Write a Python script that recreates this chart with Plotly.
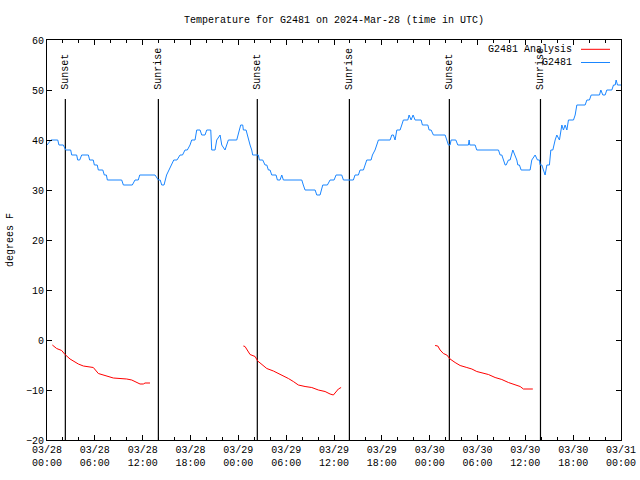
import plotly.graph_objects as go

# ---------------- data ----------------
# time in hours since 2024-03-28 00:00 UTC
obs_hours = [0.0, 0.5, 1.35, 1.5, 2.05, 2.34, 2.97, 3.1, 3.72, 3.85, 4.1, 4.35, 5.19, 5.35, 5.8,
             5.94, 6.3, 6.44, 7.0, 7.19, 7.45, 7.57, 9.37, 9.58, 10.7, 11.04, 11.45, 11.63, 13.55,
             13.97, 14.2, 14.39, 14.68, 15.0, 15.3, 15.56, 15.9, 16.3, 16.69, 17.0, 17.31, 17.6,
             17.94, 18.15, 18.57, 18.78, 19.2, 19.41, 19.82, 20.04, 20.54, 20.66, 21.08, 21.29,
             21.71, 21.92, 22.33, 22.75, 23.8, 24.13, 24.3, 24.55, 24.63, 24.97, 25.13, 25.26,
             25.47, 25.68, 25.8, 26.51, 26.64, 27.06, 27.35, 27.57, 27.77, 27.98, 28.19, 28.73,
             28.9, 29.23, 29.45, 29.65, 31.96, 32.15, 32.37, 33.63, 33.84, 34.25, 34.59, 35.17,
             35.51, 36.01, 36.26, 36.97, 37.18, 38.43, 38.64, 39.06, 39.27, 39.69, 39.9, 40.11,
             40.65, 40.82, 41.15, 41.37, 41.57, 43.04, 43.25, 43.45, 43.66, 43.88, 44.29, 44.5,
             44.7, 45.26, 45.42, 45.67, 45.92, 46.17, 46.93, 47.09, 47.77, 47.93, 48.18, 48.47,
             49.94, 50.15, 50.35, 50.56, 50.69, 51.28, 51.53, 52.86, 52.95, 53.03, 53.7, 53.91,
             56.63, 56.84, 57.05, 57.47, 57.59, 57.88, 58.09, 58.43, 58.72, 58.93, 59.06, 59.26,
             59.47, 60.6, 60.81, 61.23, 61.52, 61.77, 61.86, 62.07, 62.27, 62.48, 62.7, 63.02,
             63.2, 63.45, 63.74, 63.95, 64.28, 64.58, 64.78, 64.99, 65.21, 65.41, 66.04, 66.25,
             66.46, 67.5, 67.72, 68.04, 68.26, 69.3, 69.47, 69.72, 70.01, 70.22, 70.85, 71.06,
             71.27, 71.39, 71.56, 72.0]
obs_temp = [39, 40, 40, 39, 39, 38, 38, 37, 37, 36, 36, 37, 37, 36, 36,
            35, 35, 34, 34, 33, 33, 32, 32, 31, 31, 32, 32, 33, 33,
            32, 32, 31, 31, 33, 34, 35, 36, 36, 37, 37, 38, 38,
            39, 40, 40, 42, 42, 41, 41, 42, 42, 38, 38, 40,
            41, 39, 38, 40, 40, 42, 43, 43, 42, 42, 41, 40,
            39, 38, 37, 37, 36, 36, 35, 35, 34, 34, 33, 33,
            32, 32, 33, 32, 32, 31, 30, 30, 29, 29, 31, 31,
            32, 32, 33, 33, 32, 32, 33, 33, 34, 34, 35, 36,
            36, 37, 38, 39, 40, 40, 41, 41, 40, 42, 42, 43,
            44, 44, 45, 44, 45, 44, 44, 43, 43, 42, 42, 41,
            41, 40, 39, 39, 40, 40, 39, 39, 40, 39, 39, 38,
            38, 37, 37, 35, 35, 36, 36, 38, 37, 36, 35, 35,
            34, 34, 36, 37, 36, 36, 35, 35, 34, 33, 35, 35,
            38, 38, 40, 41, 40, 43, 42, 43, 42, 44, 44, 45,
            47, 47, 48, 48, 49, 49, 50, 49, 49, 50, 50, 51,
            51, 52, 51, 51]

# analysis segments (three separate runs)
ana1_hours = [0.67, 1.21, 1.84, 2.26, 2.89, 3.51, 3.93, 4.56, 5.1, 5.81, 6.44, 7.06, 7.69, 8.32,
              10.0, 10.63, 11.67, 12.08, 12.3, 12.92]
ana1_temp = [-1.0, -1.7, -2.1, -2.9, -3.8, -4.5, -4.8, -5.2, -5.3, -5.5, -6.7, -7.0, -7.2, -7.6,
             -7.8, -8.0, -8.8, -8.8, -8.6, -8.6]
ana2_hours = [24.63, 24.84, 25.47, 26.1, 26.43, 26.94, 27.57, 28.4, 29.03, 29.65, 30.28, 30.9,
              31.53, 32.37, 33.21, 34.04, 34.88, 35.51, 35.92, 36.55, 36.89]
ana2_temp = [-1.2, -1.3, -2.9, -3.3, -4.2, -4.9, -5.7, -6.2, -6.7, -7.1, -7.7, -8.3,
             -9.0, -9.3, -9.5, -10.0, -10.3, -10.8, -11.0, -9.8, -9.5]
ana3_hours = [48.68, 49.02, 49.31, 49.72, 50.15, 50.56, 51.19, 51.82, 52.66, 53.29, 53.91, 54.54,
              55.37, 56.21, 57.05, 57.88, 58.72, 59.35, 59.76, 60.94]
ana3_temp = [-1.1, -1.2, -2.0, -2.7, -3.0, -3.8, -4.5, -5.1, -5.5, -5.8, -6.3, -6.5,
             -6.9, -7.5, -7.9, -8.5, -9.0, -9.3, -9.8, -9.8]

sun_hours = [2.30, 13.97, 26.38, 37.93, 50.47, 61.90]
sun_labels = ["Sunset", "Sunrise", "Sunset", "Sunrise", "Sunset", "Sunrise"]
sun_line_top = 48.2
sun_label_base = 49.7

tick_hours = [0, 6, 12, 18, 24, 30, 36, 42, 48, 54, 60, 66, 72]
tick_labels = ["03/28<br>00:00", "03/28<br>06:00", "03/28<br>12:00", "03/28<br>18:00",
               "03/29<br>00:00", "03/29<br>06:00", "03/29<br>12:00", "03/29<br>18:00",
               "03/30<br>00:00", "03/30<br>06:00", "03/30<br>12:00", "03/30<br>18:00",
               "03/31<br>00:00"]

title_text = "Temperature for G2481 on 2024-Mar-28 (time in UTC)"
ylabel = "degrees F"
name_analysis = "G2481 Analysis"
name_obs = "G2481"

RED = "#ff0000"
BLUE = "#1a86ff"
FONT = "Liberation Mono"

# ---------------- figure ----------------
fig = go.Figure()

# sunrise / sunset vertical lines
sx, sy = [], []
for h in sun_hours:
    sx += [h, h, None]
    sy += [-20, sun_line_top, None]
fig.add_trace(go.Scatter(x=sx, y=sy, mode="lines", line=dict(color="black", width=1.2),
                         showlegend=False, hoverinfo="skip"))

ax, ay = [], []
for hh, tt in [(ana1_hours, ana1_temp), (ana2_hours, ana2_temp), (ana3_hours, ana3_temp)]:
    ax += hh + [None]
    ay += tt + [None]
fig.add_trace(go.Scatter(x=ax, y=ay, mode="lines", line=dict(color=RED, width=1),
                         name=name_analysis, showlegend=False, connectgaps=False))
fig.add_trace(go.Scatter(x=obs_hours, y=obs_temp, mode="lines", line=dict(color=BLUE, width=1),
                         name=name_obs, showlegend=False))

for h, lab in zip(sun_hours, sun_labels):
    fig.add_annotation(x=h, y=sun_label_base, xref="x", yref="y", text=lab, textangle=-90,
                       showarrow=False, xanchor="center", yanchor="bottom",
                       font=dict(family=FONT, size=10, color="black"))

# manual legend (text right-aligned, sample line on the right)
leg_items = [(name_analysis, RED, 49.3), (name_obs, BLUE, 62.5)]
for txt, col, ypx in leg_items:
    yp = 1 - (ypx - 40) / 400
    fig.add_annotation(x=(574 - 47) / 574, y=yp, xref="paper", yref="paper", text=txt,
                       showarrow=False, xanchor="right", yanchor="middle",
                       font=dict(family=FONT, size=10, color="black"))
    fig.add_shape(type="line", xref="paper", yref="paper",
                  x0=(581 - 47) / 574, x1=(610 - 47) / 574, y0=yp, y1=yp,
                  line=dict(color=col, width=1))

axis_common = dict(showline=True, linecolor="black", linewidth=1, mirror="allticks",
                   ticks="inside", tickcolor="black", showgrid=False, zeroline=False,
                   automargin=False,
                   tickfont=dict(family=FONT, size=10, color="black"))

fig.update_xaxes(range=[0, 72], tickmode="array", tickvals=tick_hours, ticktext=tick_labels,
                 ticklen=5, minor=dict(dtick=2, tick0=0, ticks="inside", ticklen=3,
                                       tickcolor="black", showgrid=False),
                 **axis_common)
fig.update_yaxes(range=[-20, 60], dtick=10, tick0=0, ticklen=5,
                 title=dict(text=ylabel, font=dict(family=FONT, size=10, color="black"),
                            standoff=10),
                 **axis_common)

fig.update_layout(
    width=640, height=480,
    margin=dict(l=47, r=19, t=40, b=40, autoexpand=False),
    paper_bgcolor="white", plot_bgcolor="white",
    title=dict(text=title_text, x=(334) / 640, xanchor="center", y=1 - 19 / 480, yanchor="middle",
               font=dict(family=FONT, size=10, color="black"), automargin=False),
    font=dict(family=FONT, size=10, color="black"),
    showlegend=False,
)

fig.write_html("out.html", config={"displayModeBar": False},
               post_script="document.body.style.margin='0';document.body.style.overflow='hidden';")
